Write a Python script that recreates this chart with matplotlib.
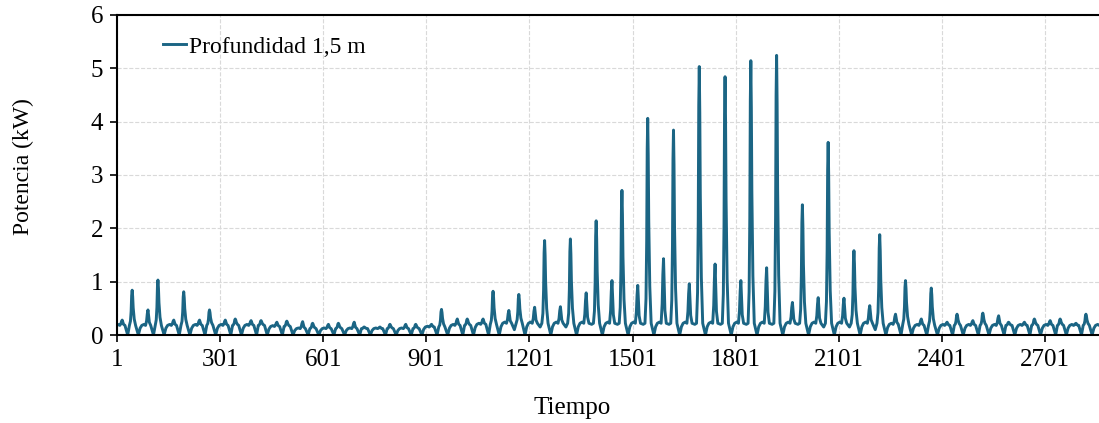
import matplotlib.pyplot as plt

plt.rcParams['font.family'] = ['Liberation Serif', 'DejaVu Serif']

# one daily cycle is ~75 samples; values read per cycle from the picture
cycle_len = 75
first_start = -12

big_peak = [0.84, 1.03, 0.81, 0.47, 0.30, 0.27, 0.26, 0.22, 0.22, 0.15,
            0.20, 0.20, 0.48, 0.30, 0.82, 0.76, 1.77, 1.80, 2.14, 2.71,
            4.06, 3.84, 5.03, 4.84, 5.14, 5.24, 2.44, 3.61, 1.58, 1.88,
            1.02, 0.88, 0.39, 0.41, 0.24, 0.30, 0.30, 0.39, 0.30]
small_peak = [0.28, 0.47, 0.28, 0.28, 0.28, 0.27, 0.24, 0.25, 0.20, 0.24,
              0.15, 0.20, 0.20, 0.30, 0.30, 0.46, 0.52, 0.53, 0.79, 1.02,
              0.93, 1.43, 0.96, 1.33, 1.02, 1.26, 0.61, 0.70, 0.69, 0.55,
              0.39, 0.30, 0.24, 0.27, 0.36, 0.24, 0.27, 0.22, 0.24]
plateau = [0.18, 0.18, 0.18, 0.18, 0.18, 0.18, 0.16, 0.12, 0.12, 0.12,
           0.12, 0.12, 0.15, 0.18, 0.20, 0.22, 0.22, 0.22, 0.22, 0.22,
           0.22, 0.22, 0.22, 0.22, 0.22, 0.22, 0.22, 0.22, 0.22, 0.22,
           0.20, 0.18, 0.18, 0.18, 0.18, 0.18, 0.18, 0.18, 0.18]
trough = [0.0, 0.0, 0.0, 0.0, 0.0, 0.0, 0.0, 0.0, 0.0, 0.0,
          0.0, 0.0, 0.0, 0.0, 0.0, 0.1, 0.15, 0.15, 0.2, 0.2,
          0.2, 0.2, 0.2, 0.2, 0.2, 0.2, 0.2, 0.15, 0.15, 0.1,
          0.0, 0.0, 0.0, 0.0, 0.0, 0.0, 0.0, 0.0, 0.0]

xticks = [1, 301, 601, 901, 1201, 1501, 1801, 2101, 2401, 2701]
yticks = [0, 1, 2, 3, 4, 5, 6]

x = []
y = []
for k in range(len(big_peak)):
    c = first_start + k * cycle_len
    P, s, b, d = big_peak[k], small_peak[k], plateau[k], trough[k]
    pts = [(0, 0), (5, 0.7 * b), (10, b), (16, 1.1 * b), (21, b),
           (24, b + 0.3 * (s - b)), (26, b + 0.75 * (s - b)), (28, s),
           (30, b + 0.6 * (s - b)), (32, b + 0.2 * (s - b)),
           (36, b), (44, d), (49, b), (52, b + 0.12 * (P - b)),
           (54, b + 0.4 * (P - b)), (55.5, b + 0.85 * (P - b)), (57, P),
           (58.5, b + 0.82 * (P - b)), (60, b + 0.5 * (P - b)),
           (63, b + 0.18 * (P - b)), (67, b), (71, 0.5 * b)]
    for off, v in pts:
        x.append(c + off)
        y.append(v)
x.append(first_start + len(big_peak) * cycle_len)
y.append(0)

fig = plt.figure(figsize=(10.99, 4.23), dpi=100)
ax = fig.add_axes([0.1065, 0.208, 0.8935, 0.757])

ax.plot(x, y, color='#1b6584', lw=2.1, label='Profundidad 1,5 m')

ax.set_xlim(1, 2858)
ax.set_ylim(0, 6)
ax.set_xticks(xticks)
ax.set_yticks(yticks)
ax.tick_params(labelsize=18, direction='out', length=5, width=1.2, pad=5)
ax.grid(True, color='#d9d9d9', ls='--', lw=0.8)
ax.set_axisbelow(True)
for side in ['left', 'bottom', 'top']:
    ax.spines[side].set_linewidth(1.5)
ax.spines['right'].set_visible(False)

ax.set_ylabel('Potencia (kW)', fontsize=17)
ax.yaxis.set_label_coords(-0.085, 0.525)
ax.set_xlabel('Tiempo', fontsize=18)
ax.xaxis.set_label_coords(0.463, -0.195)
ax.legend(loc='upper left', bbox_to_anchor=(0.025, 1.0), frameon=False,
          fontsize=17, handlelength=1.0, handletextpad=0.1)

fig.savefig('out.png', dpi=100)
